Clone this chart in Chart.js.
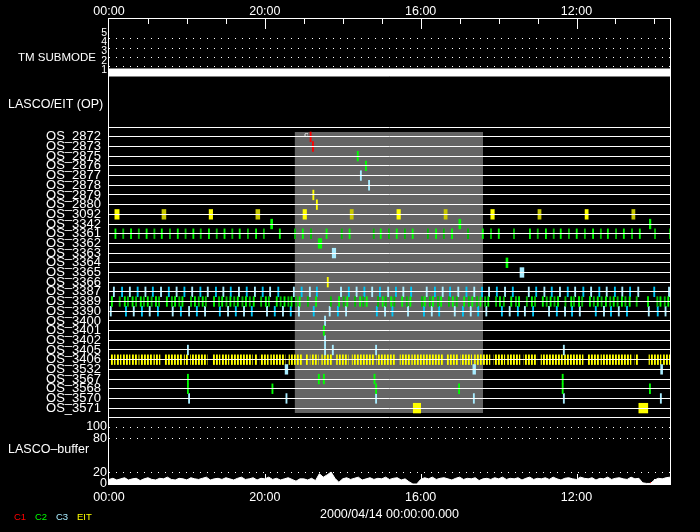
<!DOCTYPE html>
<html>
<head>
<meta charset="utf-8">
<script src="https://cdn.jsdelivr.net/npm/chart.js@4/dist/chart.umd.min.js"></script>
<style>
  html, body { margin: 0; padding: 0; background: #000; }
  #chart { display: block; }
</style>
</head>
<body>
<canvas id="chart" width="700" height="532"></canvas>
<script>
// ---- data ----
const rowNames = ['OS_2872', 'OS_2873', 'OS_2875', 'OS_2876', 'OS_2877', 'OS_2878', 'OS_2879', 'OS_2880',
  'OS_3092', 'OS_3342', 'OS_3361', 'OS_3362', 'OS_3363', 'OS_3364', 'OS_3365', 'OS_3366', 'OS_3387',
  'OS_3389', 'OS_3390', 'OS_3400', 'OS_3401', 'OS_3402', 'OS_3405', 'OS_3406', 'OS_3532', 'OS_3567',
  'OS_3568', 'OS_3570', 'OS_3571'];

const tickHours = [0, 4, 8, 12];
const tickLabels = ['00:00', '20:00', '16:00', '12:00'];
const hourSpan = 14.4;
const dateLabel = '2000/04/14 00:00:00.000';
const instruments = ['C1', 'C2', 'C3', 'EIT'];
const grayPeriod = [4.77, 9.60];

const tmTicks = [1, 2, 3, 4, 5];
const tmTimes = [0, 14.4];
const tmSubmode = [1, 1];

// single observations: [row, start hour, end hour]
const c1Events = [['OS_2872', 5.16, 5.16], ['OS_2873', 5.22, 5.22]];
const c2Events = [
  ['OS_2875', 6.37, 6.37], ['OS_2876', 6.58, 6.58],
  ['OS_3342', 4.15, 4.20], ['OS_3342', 8.98, 9.03], ['OS_3342', 13.87, 13.91],
  ['OS_3362', 5.37, 5.46], ['OS_3364', 10.19, 10.24], ['OS_3401', 5.50, 5.50],
  ['OS_3567', 2.01, 2.01], ['OS_3567', 5.37, 5.37], ['OS_3567', 5.50, 5.50], ['OS_3567', 6.80, 6.80], ['OS_3567', 11.63, 11.63],
  ['OS_3568', 2.01, 2.01], ['OS_3568', 4.18, 4.18], ['OS_3568', 6.84, 6.84], ['OS_3568', 8.97, 8.97],
  ['OS_3568', 11.63, 11.63], ['OS_3568', 13.87, 13.87]
];
const c3Events = [
  ['OS_2877', 6.45, 6.45], ['OS_2878', 6.66, 6.66], ['OS_3363', 5.73, 5.82], ['OS_3365', 10.55, 10.65],
  ['OS_3400', 5.53, 5.53], ['OS_3402', 5.53, 5.53],
  ['OS_3405', 2.01, 2.01], ['OS_3405', 5.53, 5.53], ['OS_3405', 5.73, 5.73], ['OS_3405', 6.84, 6.84], ['OS_3405', 11.66, 11.66],
  ['OS_3532', 4.52, 4.59], ['OS_3532', 9.34, 9.41], ['OS_3532', 14.16, 14.21],
  ['OS_3570', 2.04, 2.04], ['OS_3570', 4.54, 4.54], ['OS_3570', 6.84, 6.84], ['OS_3570', 9.35, 9.35],
  ['OS_3570', 11.66, 11.66], ['OS_3570', 14.15, 14.15]
];
const eitEvents = [
  ['OS_2879', 5.23, 5.23], ['OS_2880', 5.32, 5.32], ['OS_3366', 5.60, 5.60],
  ['OS_3571', 7.81, 8.00], ['OS_3571', 13.60, 13.83]
];
const os3092Spans = [[0.15, 0.26], [1.36, 1.46], [2.57, 2.66], [3.77, 3.87], [4.98, 5.07], [6.19, 6.27],
  [7.39, 7.48], [8.60, 8.68], [9.80, 9.89], [11.01, 11.09], [12.22, 12.30], [13.42, 13.50]];

// repeated programs: start hours
const os3361Times = [0.15, 0.35, 0.55, 0.75, 0.95, 1.15, 1.34, 1.55, 1.75, 1.95, 2.15, 2.34, 2.55, 2.75, 2.95,
  3.15, 3.34, 3.55, 3.76, 3.96, 4.37, 4.76, 4.96, 5.17, 5.57, 5.96, 6.16, 6.78, 6.96, 7.17, 7.37, 7.58, 7.78,
  8.17, 8.38, 8.58, 8.79, 9.20, 9.58, 9.79, 9.99, 10.38, 10.79, 10.99, 11.20, 11.40, 11.58, 11.79, 11.99,
  12.20, 12.41, 12.61, 12.79, 13.00, 13.20, 13.41, 13.61, 14.00, 14.39];
const os3387Times = [0.11, 0.32, 0.52, 0.72, 0.92, 1.11, 1.32, 1.52, 1.72, 1.92, 2.12, 2.33, 2.52, 2.73, 2.92,
  3.11, 3.32, 3.52, 3.73, 3.93, 4.12, 4.33, 4.73, 4.93, 5.14, 5.32, 5.94, 6.14, 6.34, 6.54, 6.74, 6.94, 7.15,
  7.35, 7.54, 7.74, 8.14, 8.35, 8.55, 8.74, 8.95, 9.16, 9.36, 9.56, 9.74, 9.94, 10.15, 10.35, 10.76, 10.95,
  11.16, 11.35, 11.56, 11.76, 11.95, 12.16, 12.36, 12.57, 12.76, 12.97, 13.16, 13.36, 13.57, 13.98, 14.36];
const os3389Times = [0.06, 0.26, 0.39, 0.47, 0.59, 0.68, 0.80, 0.88, 0.98, 1.08, 1.19, 1.27, 1.47, 1.60, 1.68,
  1.79, 1.87, 2.09, 2.19, 2.29, 2.39, 2.47, 2.68, 2.81, 2.89, 3.00, 3.10, 3.20, 3.29, 3.41, 3.50, 3.60, 3.70,
  3.89, 4.01, 4.09, 4.29, 4.39, 4.49, 4.59, 4.67, 4.79, 4.88, 5.09, 5.30, 5.68, 5.89, 6.01, 6.10, 6.30, 6.43,
  6.51, 6.60, 6.89, 7.01, 7.09, 7.23, 7.31, 7.51, 7.63, 7.72, 8.02, 8.09, 8.22, 8.30, 8.43, 8.51, 8.71, 8.81,
  8.91, 9.10, 9.22, 9.31, 9.43, 9.52, 9.64, 9.72, 9.92, 10.02, 10.12, 10.31, 10.43, 10.51, 10.71, 10.84,
  10.92, 11.12, 11.22, 11.32, 11.42, 11.51, 11.70, 11.85, 11.92, 12.05, 12.13, 12.33, 12.43, 12.53, 12.63,
  12.74, 12.85, 12.94, 13.04, 13.15, 13.24, 13.35, 13.53, 13.82, 14.06, 14.14, 14.25, 14.34];
const os3390Times = [0.03, 0.42, 0.62, 0.83, 1.03, 1.24, 1.62, 1.83, 2.04, 2.24, 2.45, 2.83, 3.04, 3.24, 3.45,
  3.65, 4.04, 4.24, 4.45, 4.65, 4.86, 5.24, 5.65, 5.86, 6.07, 6.86, 7.07, 7.26, 7.66, 8.07, 8.27, 8.46, 8.86,
  9.07, 9.27, 9.46, 9.67, 10.07, 10.27, 10.48, 10.66, 10.87, 11.28, 11.48, 11.69, 11.87, 12.07, 12.48, 12.69,
  12.87, 13.07, 13.28, 13.84, 14.07, 14.27];
// OS_3406 runs of closely packed EIT images: [start, end]
const os3406Spans = [[0.04, 0.16], [0.21, 0.31], [0.34, 0.54], [0.57, 0.75], [0.79, 1.11], [1.15, 1.31],
  [1.44, 1.88], [1.93, 2.04], [2.09, 2.52], [2.67, 2.85], [2.89, 3.08], [3.13, 3.68], [3.73, 3.80], [3.88, 4.09],
  [4.15, 4.52], [4.62, 4.95], [5.06, 5.13], [5.18, 5.37], [5.46, 5.72], [5.84, 6.14], [6.24, 6.81], [6.87, 7.36],
  [7.47, 7.73], [7.77, 7.96], [7.99, 8.58], [8.67, 8.97], [9.03, 9.31], [9.38, 9.78], [9.88, 10.16],
  [10.23, 10.55], [10.65, 10.98], [11.09, 11.64], [11.69, 12.17], [12.29, 12.60], [12.63, 13.40],
  [13.50, 13.59], [13.86, 14.17], [14.23, 14.40]];

// LASCO buffer fill (%), one reading every 0.1 h
const bufferStep = 0.1;
const bufferValues = [
  8, 10, 7, 9, 11, 7, 9, 10, 6, 9,
  11, 8, 7, 10, 9, 12, 8, 7, 10, 9,
  7, 11, 9, 8, 10, 12, 7, 9, 10, 8,
  11, 9, 7, 10, 12, 8, 9, 11, 7, 10,
  9, 12, 8, 10, 7, 9, 11, 8, 5, 9,
  9, 7, 10, 6, 18, 12, 16, 21, 10, 3,
  9, 11, 8, 10, 12, 7, 9, 11, 8, 10,
  9, 12, 8, 10, 11, 7, 9, 4, 0, 0,
  8, 11, 9, 12, 8, 10, 11, 9, 7, 10,
  12, 8, 10, 9, 11, 6, 9, 10, 8, 11,
  9, 12, 8, 10, 9, 11, 7, 10, 12, 8,
  10, 9, 11, 8, 12, 9, 7, 10, 11, 9,
  8, 12, 10, 9, 11, 7, 10, 9, 12, 8,
  10, 11, 9, 8, 12, 9, 10, 2, 1, 1,
  7, 10, 9, 11, 12];
const bufferTicks = [0, 20, 80, 100];
// C1 share of the buffer: [start, end, level]
const c1BufferSpans = [[0.05, 0.40, 2], [0.72, 0.92, 2], [1.18, 1.30, 2], [1.96, 2.14, 2], [2.72, 3.06, 2],
  [3.57, 3.75, 2], [4.18, 4.52, 2], [4.85, 4.98, 2], [5.29, 5.47, 2], [6.06, 6.24, 2], [6.78, 7.09, 2],
  [7.39, 7.47, 2], [8.03, 8.16, 2], [8.50, 8.68, 2], [9.19, 9.45, 2], [9.96, 10.09, 2], [10.63, 10.81, 2],
  [11.32, 11.50, 2], [12.01, 12.14, 2], [12.68, 12.86, 2], [13.19, 13.37, 2], [13.89, 14.07, 2], [14.22, 14.40, 2]];

// ---- styles ----
const FONT = 'Liberation Sans';
const WHITE = '#ffffff';
const GRAY = '#646464';
const colors = {
  C1: '#ff0000',
  C2: '#00ff00', C2dim: '#00c000',
  C3: '#a8ecff', C3deep: '#00c8f8',
  EIT: '#ffff00', EITdim: '#c8c800'
};

const rowY = name => rowNames.indexOf(name) + 0.5;
const fromEvents = list => list.map(([row, s, e]) => ({ x: [s, e], y: rowY(row) }));
const fromTimes = (row, times) => times.map(t => ({ x: [t, t], y: rowY(row) }));
const fromSpans = (row, spans) => spans.map(([s, e]) => ({ x: [s, e], y: rowY(row) }));
const alternate = (a, b) => ctx => (ctx.dataIndex % 2 ? b : a);

const canvas = document.getElementById('chart');
const ctx2d = canvas.getContext('2d');

function textWidth(text, size) {
  ctx2d.save();
  ctx2d.font = size + 'px ' + FONT;
  const w = ctx2d.measureText(text).width;
  ctx2d.restore();
  return w;
}

// striped fill for the densely packed OS_3406 runs
function stripePattern() {
  const c = document.createElement('canvas');
  c.width = 3; c.height = 1;
  const g = c.getContext('2d');
  g.fillStyle = colors.EIT; g.fillRect(0, 0, 1, 1);
  g.fillStyle = '#d8d800'; g.fillRect(1, 0, 1, 1);
  return ctx2d.createPattern(c, 'repeat');
}

function marks(label, data, color) {
  return {
    type: 'bar', label, data, indexAxis: 'y', xAxisID: 'x', yAxisID: 'yRow',
    backgroundColor: color, borderWidth: 0, grouped: false,
    categoryPercentage: 1, barPercentage: 1, minBarLength: 1.2
  };
}

const bufferPoints = bufferValues.map((v, i) => ({ x: +(i * bufferStep).toFixed(2), y: v }));
const c1BufferPoints = [];
c1BufferSpans.forEach(([s, e, lvl]) => {
  c1BufferPoints.push({ x: s, y: lvl }, { x: e, y: lvl }, { x: e, y: null });
});

const fixedTicks = values => scale => { scale.ticks = values.map(v => ({ value: v })); };

// gray interval, frame, inward tick marks and the free text
const decorations = {
  id: 'decorations',
  beforeDatasetsDraw(chart) {
    const { ctx, scales: { x, yRow } } = chart;
    const x0 = x.getPixelForValue(grayPeriod[0]);
    const x1 = x.getPixelForValue(grayPeriod[1]);
    const y0 = yRow.getPixelForValue(0);
    const y1 = yRow.getPixelForValue(rowNames.length);
    ctx.save();
    ctx.fillStyle = GRAY;
    ctx.fillRect(x0, y0, x1 - x0, y1 - y0);
    ctx.restore();
  },
  afterDraw(chart) {
    const { ctx, chartArea: a, scales: { x, yTM, yRow, yBuf } } = chart;
    ctx.save();
    ctx.strokeStyle = WHITE;
    ctx.lineWidth = 1;
    ctx.strokeRect(Math.round(a.left) - 0.5, Math.round(a.top) - 0.5,
      Math.round(a.right - a.left) + 1, Math.round(a.bottom - a.top) + 1);

    // hour ticks pointing into the plot, long every 4 h
    ctx.beginPath();
    for (let h = 1; h <= Math.floor(hourSpan); h++) {
      const px = Math.round(x.getPixelForValue(h)) + 0.5;
      const len = h % 4 === 0 ? 10 : 5;
      ctx.moveTo(px, a.top); ctx.lineTo(px, a.top + len);
      ctx.moveTo(px, a.bottom); ctx.lineTo(px, a.bottom - len);
    }
    ctx.stroke();

    ctx.fillStyle = WHITE;
    ctx.textBaseline = 'middle';
    ctx.font = `11.5px ${FONT}`;
    ctx.textAlign = 'right';
    ctx.fillText('TM SUBMODE', 96, yTM.getPixelForValue(3));
    ctx.font = `12.5px ${FONT}`;
    ctx.textAlign = 'left';
    ctx.fillText('LASCO/EIT (OP)', 8, yRow.getPixelForValue(-2.85));
    ctx.fillText('LASCO\u2013buffer', 8, yBuf.getPixelForValue(60));

    // note next to the first C1 image
    ctx.font = `8px ${FONT}`;
    ctx.textAlign = 'center';
    ctx.fillText('c', x.getPixelForValue(5.06), yRow.getPixelForValue(0.3));

    // instrument key
    ctx.font = `9.5px ${FONT}`;
    ctx.textAlign = 'left';
    instruments.forEach((name, i) => {
      ctx.fillStyle = colors[name];
      ctx.fillText(name, 14 + i * 21, 517);
    });
    ctx.restore();
  }
};

const timeAxis = (position, height, padding) => ({
  type: 'linear', position, min: 0, max: hourSpan, offset: false, stacked: false,
  afterBuildTicks: fixedTicks(tickHours),
  afterFit: scale => { scale.height = height; },
  ticks: {
    color: WHITE, font: { family: FONT, size: 12.5 }, padding, maxRotation: 0, autoSkip: false,
    callback: (v, i) => tickLabels[i]
  },
  grid: { display: false, drawTicks: false },
  border: { display: false }
});

// zero-width axes drawn on top of the row axis: mirrored labels pulled back left of the frame
const overlayTicks = (size, widest, labelOffset) => ({
  color: WHITE, font: { family: FONT, size }, autoSkip: false, mirror: true, crossAlign: 'far',
  padding: -(2 + textWidth(widest, size)), labelOffset, callback: v => String(v)
});

new Chart(ctx2d, {
  type: 'bar',
  data: {
    datasets: [
      {
        type: 'line', label: 'TM submode', xAxisID: 'x', yAxisID: 'yTM',
        data: tmTimes.map((t, i) => ({ x: t, y: tmSubmode[i] })),
        borderColor: WHITE, backgroundColor: WHITE, borderWidth: 1, pointRadius: 0,
        fill: { value: 1.8 }
      },
      {
        type: 'line', label: 'buffer', xAxisID: 'x', yAxisID: 'yBuf', data: bufferPoints,
        borderColor: WHITE, backgroundColor: WHITE, borderWidth: 1, pointRadius: 0, tension: 0,
        fill: 'origin'
      },
      {
        type: 'line', label: 'C1 buffer', xAxisID: 'x', yAxisID: 'yBuf', data: c1BufferPoints,
        borderColor: colors.C1, borderWidth: 1.5, pointRadius: 0, spanGaps: false, fill: false
      },
      marks('C1', fromEvents(c1Events), colors.C1),
      marks('C2', fromEvents(c2Events), colors.C2),
      marks('C2 OS_3361', fromTimes('OS_3361', os3361Times), alternate(colors.C2, colors.C2dim)),
      marks('C2 OS_3389', fromTimes('OS_3389', os3389Times), alternate(colors.C2, colors.C2dim)),
      marks('C3', fromEvents(c3Events), colors.C3),
      marks('C3 OS_3387', fromTimes('OS_3387', os3387Times), alternate(colors.C3, colors.C3deep)),
      marks('C3 OS_3390', fromTimes('OS_3390', os3390Times), alternate(colors.C3, colors.C3deep)),
      marks('EIT', fromEvents(eitEvents), colors.EIT),
      marks('EIT OS_3092', fromSpans('OS_3092', os3092Spans), alternate(colors.EIT, colors.EITdim)),
      marks('EIT OS_3406', fromSpans('OS_3406', os3406Spans), stripePattern())
    ]
  },
  options: {
    responsive: false,
    animation: false,
    devicePixelRatio: 1,
    layout: { padding: { left: 0, right: 30, top: 0, bottom: 0 } },
    plugins: { legend: { display: false }, tooltip: { enabled: false } },
    scales: {
      x: Object.assign(timeAxis('bottom', 48, 6), {
        title: {
          display: true, text: dateLabel, color: WHITE,
          font: { family: FONT, size: 12.5 }, padding: { top: 0, bottom: 10 }
        }
      }),
      x2: timeAxis('top', 19, 0),
      yRow: {
        type: 'linear', position: 'left', weight: 3, reverse: true, min: -11.66, max: 36.33, offset: false,
        afterBuildTicks: fixedTicks(rowNames.map((_, i) => i).concat(rowNames.length)),
        afterFit: scale => { scale.width = 109; },
        ticks: {
          color: WHITE, font: { family: FONT, size: 13 }, padding: 8, autoSkip: false,
          labelOffset: 4.85, callback: (v, i) => rowNames[i] || ''
        },
        grid: { color: WHITE, lineWidth: 1, drawTicks: false, z: 1 },
        border: { display: false }
      },
      yTM: {
        type: 'linear', position: 'left', weight: 1, min: -42.73, max: 7.11, offset: false,
        afterBuildTicks: fixedTicks(tmTicks),
        afterFit: scale => { scale.width = 0; },
        ticks: overlayTicks(10.5, '5', -6),
        grid: { color: c => (c.tick && c.tick.value === 1 ? 'rgba(0,0,0,0)' : WHITE), drawTicks: false },
        border: { display: false, dash: [1, 6] }
      },
      yBuf: {
        type: 'linear', position: 'left', weight: 1, min: 0, max: 815.8, offset: false,
        afterBuildTicks: fixedTicks(bufferTicks),
        afterFit: scale => { scale.width = 0; },
        ticks: overlayTicks(12.5, '100', 0),
        grid: { color: c => (c.tick && c.tick.value === 0 ? 'rgba(0,0,0,0)' : WHITE), drawTicks: false },
        border: { display: false, dash: [1, 6] }
      }
    }
  },
  plugins: [decorations]
});
</script>
</body>
</html>
